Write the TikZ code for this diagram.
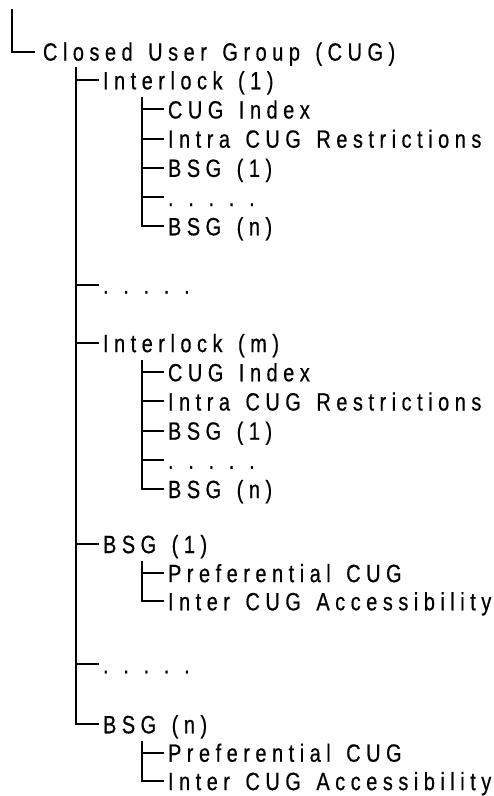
\documentclass[tikz,border=0pt]{standalone}
\usepackage{fontspec}
\setmainfont{Liberation Sans}[FakeStretch=0.8,LetterSpace=22,FakeBold=0.5,WordSpace=1.4]
\newfontfamily\dotsfont{Liberation Sans}[FakeStretch=0.8,LetterSpace=22,FakeBold=0.5]
\def\bo{9.1}
\begin{document}
\begin{tikzpicture}[x=1pt,y=-1pt,line width=2pt,
  lab/.style={anchor=base west,inner sep=0pt,font=\fontsize{25}{29}\selectfont},
  dotlab/.style={anchor=base west,inner sep=0pt,font=\fontsize{25}{29}\dotsfont}]
\useasboundingbox (0,0) rectangle (494,796);
% root
\coordinate (r0) at (12,9);
\node[lab] (cug) at (42,51.5+\bo) {Closed User Group (CUG)};
\path (cug.base west) ++(-7,-\bo) coordinate (cug-t);
\draw (r0) |- (cug-t);
% level 2
\node[lab] (il1) at (102,80.2+\bo) {Interlock (1)};
\node[dotlab] (d2a) at (102,284.6+\bo) {. . . . .};
\node[lab] (ilm) at (102,343+\bo) {Interlock (m)};
\node[lab] (bs1) at (102,544+\bo) {BSG (1)};
\node[dotlab] (d2b) at (102,664.2+\bo) {. . . . .};
\node[lab] (bsn) at (102,724.2+\bo) {BSG (n)};
\coordinate (s2) at (76,67);
\foreach \n in {il1,d2a,ilm,bs1,d2b,bsn} {\path (\n.base west) ++(-3,-\bo) coordinate (\n-t);}
\draw (s2) |- (bsn-t);
\foreach \n in {il1,d2a,ilm,bs1,d2b} {\draw (s2 |- \n-t) -- (\n-t);}
% level 3, block 1
\node[lab] (a1) at (167,109.4+\bo) {CUG Index};
\node[lab] (a2) at (167,138.6+\bo) {Intra CUG Restrictions};
\node[lab] (a3) at (167,167.8+\bo) {BSG (1)};
\node[dotlab] (a4) at (167,197+\bo) {. . . . .};
\node[lab] (a5) at (167,226.2+\bo) {BSG (n)};
\coordinate (s3a) at (142,97.4);
% level 3, block 2
\node[lab] (b1) at (167,372.2+\bo) {CUG Index};
\node[lab] (b2) at (167,401.4+\bo) {Intra CUG Restrictions};
\node[lab] (b3) at (167,430.6+\bo) {BSG (1)};
\node[dotlab] (b4) at (167,459.8+\bo) {. . . . .};
\node[lab] (b5) at (167,489+\bo) {BSG (n)};
\coordinate (s3b) at (142,360.2);
% level 3, block 3
\node[lab] (c1) at (167,573+\bo) {Preferential CUG};
\node[lab] (c2) at (167,601.2+\bo) {Inter CUG Accessibility};
\coordinate (s3c) at (142,560.6);
% level 3, block 4
\node[lab] (e1) at (167,752.6+\bo) {Preferential CUG};
\node[lab] (e2) at (167,781+\bo) {Inter CUG Accessibility};
\coordinate (s3d) at (142,740.6);
\foreach \n in {a1,a2,a3,a4,a5,b1,b2,b3,b4,b5,c1,c2,e1,e2} {\path (\n.base west) ++(-3,-\bo) coordinate (\n-t);}
\draw (s3a) |- (a5-t);
\foreach \n in {a1,a2,a3,a4} {\draw (s3a |- \n-t) -- (\n-t);}
\draw (s3b) |- (b5-t);
\foreach \n in {b1,b2,b3,b4} {\draw (s3b |- \n-t) -- (\n-t);}
\draw (s3c) |- (c2-t);
\draw (s3c |- c1-t) -- (c1-t);
\draw (s3d) |- (e2-t);
\draw (s3d |- e1-t) -- (e1-t);
\end{tikzpicture}
\end{document}
